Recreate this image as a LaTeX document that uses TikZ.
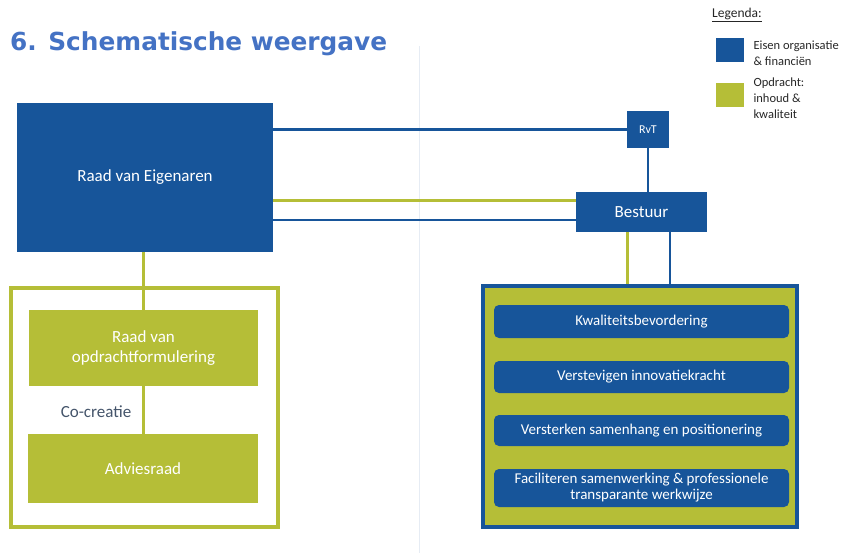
\documentclass[tikz,border=0pt]{standalone}
\usepackage{fontspec}
\setmainfont{Carlito}
\newfontfamily\titlefont{DejaVu Sans}
\definecolor{eigblue}{HTML}{17559A}
\definecolor{opdgreen}{HTML}{B5BE37}
\definecolor{titleblue}{HTML}{4472C4}
\definecolor{slate}{HTML}{44546A}
\definecolor{divider}{HTML}{E6ECF4}

\begin{document}
\begin{tikzpicture}[x=1pt,y=-1pt,
  bluebox/.style={fill=eigblue,text=white,inner sep=0pt,align=center,font=\fontsize{17}{20}\selectfont},
  greenbox/.style={fill=opdgreen,text=white,inner sep=0pt,align=center,font=\fontsize{17}{20}\selectfont},
  goalbox/.style={fill=eigblue,text=white,rounded corners=5pt,inner sep=0pt,align=center,
    minimum width=295pt,font=\fontsize{15}{17}\selectfont},
  blueline/.style={eigblue,line width=2.5pt},
  greenline/.style={opdgreen,line width=3pt},
  legtext/.style={anchor=west,align=left,text=black!85,font=\fontsize{12.5}{16}\selectfont}]
\useasboundingbox (0,0) rectangle (845,553);
\draw[divider,line width=1pt] (419,46)--(419,553);
\node[anchor=base west,inner sep=0pt,text=titleblue,font=\titlefont\bfseries\fontsize{24.8}{28}\selectfont] (title) at (10,51){6. Schematische weergave};
% legenda
\node[text=black!85,font=\fontsize{13.5}{15}\selectfont] (legenda) at (737,15){\underline{Legenda:}};
\node[fill=eigblue,minimum width=28pt,minimum height=24pt,inner sep=0pt] (legblue) at (730,50){};
\node[fill=opdgreen,minimum width=28pt,minimum height=24pt,inner sep=0pt] (leggreen) at (730,95){};
\node[legtext] (legbluetext) at (750,53){Eisen organisatie\\\& financiën};
\node[legtext] (leggreentext) at (750,98){Opdracht:\\inhoud \&\\kwaliteit};
% bovenste laag
\node[bluebox,minimum width=256pt,minimum height=149pt] (rve) at (145,177.5){Raad van Eigenaren};
\node[bluebox,minimum width=42pt,minimum height=37pt,font=\fontsize{12}{14}\selectfont] (rvt) at (648,129.5){RvT};
\node[bluebox,minimum width=131pt,minimum height=40pt] (bestuur) at (641.5,212){Bestuur};
% linker kader
\node[draw=opdgreen,line width=4pt,minimum width=267pt,minimum height=239pt] (opdracht) at (144.5,407.5){};
\node[greenbox,minimum width=229pt,minimum height=76pt] (rvo) at (143.5,348){Raad van\\opdrachtformulering};
\node[greenbox,minimum width=230pt,minimum height=69pt] (advies) at (143,468.5){Adviesraad};
\node[text=slate,font=\fontsize{17}{20}\selectfont] (cocreatie) at (96,412){Co-creatie};
% rechter kader
\node[draw=eigblue,fill=opdgreen,line width=4pt,minimum width=314pt,minimum height=241pt] (doelen) at (640,406.5){};
\node[goalbox,minimum height=33pt] (kwal) at (641.5,321.5){Kwaliteitsbevordering};
\node[goalbox,minimum height=32pt] (innov) at (641.5,377){Verstevigen innovatiekracht};
\node[goalbox,minimum height=31pt] (samen) at (641.5,430.5){Versterken samenhang en positionering};
\node[goalbox,minimum height=38pt,font=\fontsize{15}{16}\selectfont] (facil) at (641.5,488){Faciliteren samenwerking \& professionele\\transparante werkwijze};
% verbindingen
\draw[blueline] (rvt.west)--(rvt.west -| rve.east);
\draw[greenline] ([yshift=11pt]bestuur.west)--([yshift=11pt]bestuur.west -| rve.east);
\draw[blueline] ([yshift=-8pt]bestuur.west)--([yshift=-8pt]bestuur.west -| rve.east);
\draw[blueline] (rvt.south)--(rvt.south |- bestuur.north);
\draw[greenline] ([xshift=-14.5pt]bestuur.south)--([xshift=-14.5pt]bestuur.south |- doelen.north);
\draw[blueline] ([xshift=28.5pt]bestuur.south)--([xshift=28.5pt]bestuur.south |- doelen.north);
\draw[greenline] (rve.south -| rvo.north)--(rvo.north);
\draw[greenline] (rvo.south)--(rvo.south |- advies.north);
\end{tikzpicture}
\end{document}
